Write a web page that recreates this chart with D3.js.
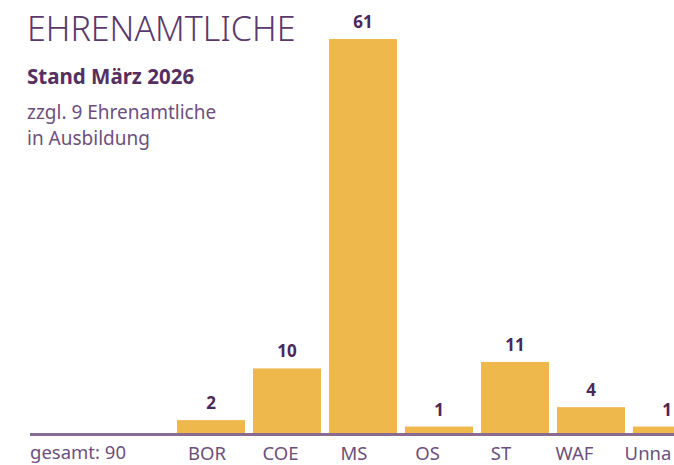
<!DOCTYPE html>
<html>
<head>
<meta charset="utf-8">
<script src="https://cdn.jsdelivr.net/npm/d3@7"></script>
<style>
  body { margin: 0; background: #fff; }
  text { font-family: "Noto Sans", "Open Sans", sans-serif; }
</style>
</head>
<body>
<div id="chart"></div>
<script>
// Ehrenamtliche per Kreis, Stand März 2026
const categories = ["BOR", "COE", "MS", "OS", "ST", "WAF", "Unna"];
const values = [2, 10, 61, 1, 11, 4, 1];
const totalLabel = "gesamt: 90";
const titleText = "EHRENAMTLICHE";
const subtitleText = "Stand März 2026";
const noteLines = ["zzgl. 9 Ehrenamtliche", "in Ausbildung"];

const W = 674, H = 465;
const baseY = 433;
const barColor = "#efb84d";
const purple = "#55305f";
const lightPurple = "#6e4f7c";

const svg = d3.select("#chart").append("svg")
    .attr("width", W)
    .attr("height", H);

// Scales - last bar runs past the right edge like in the print layout
const x = d3.scaleBand()
    .domain(categories)
    .range([173, 173 + 76 * categories.length])
    .paddingInner(8 / 76)
    .paddingOuter(4 / 76);

const y = d3.scaleLinear()
    .domain([0, 61])
    .range([baseY, 39]);

// labels sit on their own slightly tighter grid
const xLabel = d3.scalePoint()
    .domain(categories)
    .range([207, 207 + 73.5 * (categories.length - 1)]);

// Bars
svg.selectAll("rect.bar")
    .data(categories)
    .enter()
    .append("rect")
    .attr("class", "bar")
    .attr("x", d => x(d))
    .attr("y", (d, i) => y(values[i]))
    .attr("width", x.bandwidth())
    .attr("height", (d, i) => y(0) - y(values[i]))
    .attr("fill", barColor);

// Value labels
svg.selectAll("text.val")
    .data(categories)
    .enter()
    .append("text")
    .attr("class", "val")
    .attr("x", d => x(d) + x.bandwidth() / 2)
    .attr("y", (d, i) => y(values[i]) - 11)
    .attr("text-anchor", "middle")
    .style("font-size", "17px")
    .style("font-weight", "bold")
    .style("fill", "#4a2858")
    .text((d, i) => values[i]);

// Baseline
svg.append("line")
    .attr("x1", 30)
    .attr("x2", W)
    .attr("y1", y(0) + 1.5)
    .attr("y2", y(0) + 1.5)
    .attr("stroke", "#8a6c93")
    .attr("stroke-width", 3);

// Category labels
svg.selectAll("text.cat")
    .data(categories)
    .enter()
    .append("text")
    .attr("class", "cat")
    .attr("x", d => xLabel(d))
    .attr("y", 460)
    .attr("text-anchor", "middle")
    .style("font-size", "18.5px")
    .style("fill", lightPurple)
    .text(d => d);

svg.append("text")
    .attr("x", 30)
    .attr("y", 459)
    .style("font-size", "18.5px")
    .style("fill", lightPurple)
    .text(totalLabel);

// Title block
svg.append("text")
    .attr("x", 27)
    .attr("y", 41)
    .style("font-size", "34px")
    .style("font-weight", 300)
    .style("fill", "#5a3a6b")
    .text(titleText);

svg.append("text")
    .attr("x", 27)
    .attr("y", 84)
    .style("font-size", "20.5px")
    .style("font-weight", "bold")
    .style("fill", purple)
    .text(subtitleText);

svg.selectAll("text.note")
    .data(noteLines)
    .enter()
    .append("text")
    .attr("class", "note")
    .attr("x", 27)
    .attr("y", (d, i) => 119 + i * 26)
    .style("font-size", "19px")
    .style("fill", lightPurple)
    .text(d => d);
</script>
</body>
</html>
